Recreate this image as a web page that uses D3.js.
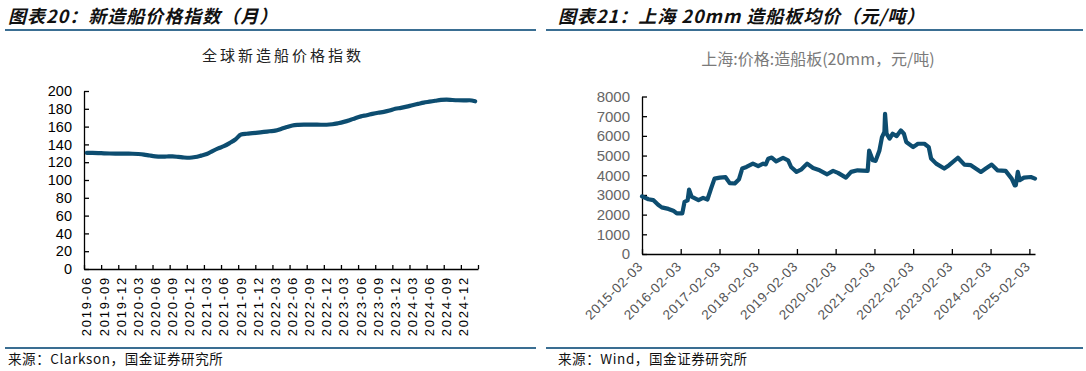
<!DOCTYPE html>
<meta charset="utf-8">
<script src="https://d3js.org/d3.v7.min.js"></script>
<style>
  body { margin: 0; background: #fff; }
  svg { display: block; }
  .title { font-family: "Noto Sans CJK SC", sans-serif; font-size: 18px; font-weight: bold; font-style: italic; fill: #111; letter-spacing: 1px; }
  .sub { font-family: "Noto Sans CJK SC", sans-serif; }
  .src { font-family: "Noto Sans CJK SC", sans-serif; font-size: 13.5px; fill: #111; letter-spacing: 0.6px; }
  .axis text { font-family: "Liberation Sans", Arial, sans-serif; }
</style>
<div id="chart"></div>
<script>

// ---- data: left chart, Clarkson newbuilding price index, monthly 2019-06 .. 2025-02
var months = []
for (var yy = 2019, mm = 6; yy * 100 + mm <= 202502; mm++) {
  if (mm > 12) { mm = 1; yy++ }
  months.push(yy + "-" + (mm < 10 ? "0" + mm : mm))
}
var indexValues = [
  130.5, 130.4, 130.2, 130.0, 129.8, 129.7, 129.7,
  129.6, 129.5, 129.2, 128.6, 127.5, 126.6, 126.3, 126.4, 126.5, 126.0, 125.3, 125.0,
  125.8, 127.4, 129.2, 132.5, 135.5, 138.0, 141.5, 145.5, 151.0, 152.0, 152.6, 153.3,
  154.0, 154.8, 155.5, 157.4, 159.5, 161.3, 162.0, 162.3, 162.3, 162.2, 162.1, 162.1,
  162.6, 163.8, 165.3, 167.2, 169.5, 171.5, 172.8, 174.3, 175.6, 176.6, 178.0, 180.0,
  181.0, 182.4, 184.0, 185.5, 187.0, 188.0, 189.0, 190.0, 190.3, 189.9, 189.6, 189.5,
  189.6, 188.5
]
var leftTicks = [0, 20, 40, 60, 80, 100, 120, 140, 160, 180, 200]

// ---- data: right chart, Shanghai 20mm ship plate price (yuan/ton)
var plateDates = [
  "2015-02-03", "2015-04-05", "2015-05-20", "2015-07-05", "2015-08-08", "2015-10-10",
  "2015-11-25", "2015-12-28", "2016-02-18", "2016-03-10", "2016-04-08", "2016-04-22",
  "2016-05-15", "2016-07-20", "2016-09-01", "2016-10-12", "2016-11-15", "2016-12-18",
  "2017-02-06", "2017-04-01", "2017-05-10", "2017-06-27", "2017-08-06", "2017-09-05",
  "2017-10-15", "2017-12-15", "2018-02-03", "2018-03-22", "2018-04-15", "2018-05-08",
  "2018-06-10", "2018-07-22", "2018-09-25", "2018-11-12", "2018-12-10", "2019-01-30",
  "2019-03-18", "2019-05-10", "2019-07-05", "2019-09-05", "2019-11-15", "2020-01-10",
  "2020-02-25", "2020-05-10", "2020-06-28", "2020-08-28", "2020-12-01", "2020-12-15",
  "2021-01-18", "2021-02-14", "2021-03-22", "2021-04-15", "2021-05-08", "2021-05-14",
  "2021-05-28", "2021-06-26", "2021-07-25", "2021-09-01", "2021-10-10", "2021-11-08",
  "2021-11-30", "2022-02-03", "2022-03-20", "2022-05-20", "2022-06-30", "2022-07-22",
  "2022-09-08", "2022-11-23", "2023-01-08", "2023-04-01", "2023-06-01", "2023-08-01",
  "2023-11-04", "2023-12-20", "2024-02-14", "2024-04-08", "2024-06-24", "2024-08-20",
  "2024-09-18", "2024-09-28", "2024-10-17", "2024-11-04", "2024-12-14", "2025-02-17",
  "2025-03-28"
]
var plateValues = [
  2930, 2780, 2740, 2500, 2370, 2290,
  2200, 2060, 2060, 2650, 2720, 3270,
  2920, 2740, 2850, 2770, 3320, 3830,
  3880, 3900, 3600, 3580, 3800, 4340,
  4420, 4590, 4460, 4590, 4550, 4840,
  4900, 4710, 4880, 4760, 4420, 4170,
  4300, 4590, 4370, 4250, 4050, 4220,
  4120, 3880, 4170, 4250, 4220, 5250,
  4760, 4730, 5260, 5940, 6200, 7120,
  6110, 5860, 6110, 5990, 6280, 6110,
  5690, 5430, 5600, 5600, 5430, 4850,
  4590, 4340, 4510, 4890, 4540, 4510,
  4170, 4340, 4540, 4250, 4220, 3830,
  3490, 3490, 4170, 3750, 3880, 3910,
  3830
]
var plateTickDates = ["2015-02-03", "2016-02-03", "2017-02-03", "2018-02-03", "2019-02-03",
  "2020-02-03", "2021-02-03", "2022-02-03", "2023-02-03", "2024-02-03", "2025-02-03"]
var rightTicks = [0, 1000, 2000, 3000, 4000, 5000, 6000, 7000, 8000]

var lineColor = "#0d4d70", ruleColor = "#3a6e92"

var svg = d3.select("#chart").append("svg")
  .attr("width", 1086).attr("height", 371)

// headers and footers
svg.append("text").attr("class", "title").attr("x", 8).attr("y", 23).text("图表20：新造船价格指数（月）")
svg.append("text").attr("class", "title").attr("x", 558).attr("y", 23).text("图表21：上海 20mm 造船板均价（元/吨）")
svg.append("rect").attr("x", 5).attr("y", 29).attr("width", 531).attr("height", 2).attr("fill", ruleColor)
svg.append("rect").attr("x", 546).attr("y", 29).attr("width", 537).attr("height", 2).attr("fill", ruleColor)
svg.append("rect").attr("x", 5).attr("y", 347).attr("width", 531).attr("height", 2).attr("fill", ruleColor)
svg.append("rect").attr("x", 546).attr("y", 347).attr("width", 537).attr("height", 2).attr("fill", ruleColor)
svg.append("text").attr("class", "src").attr("x", 8).attr("y", 364).text("来源：Clarkson，国金证券研究所")
svg.append("text").attr("class", "src").attr("x", 558).attr("y", 364).text("来源：Wind，国金证券研究所")

// ---------- left chart
var x1 = d3.scaleBand().domain(months).range([84, 478])
var x1lin = d3.scaleLinear().domain([0, months.length]).range([84, 478])
var y1 = d3.scaleLinear().domain([0, 200]).range([269, 91])

svg.append("text").attr("class", "sub")
  .attr("x", 283).attr("y", 61)
  .attr("text-anchor", "middle")
  .style("font-size", "15px").style("letter-spacing", "3px").style("fill", "#222")
  .text("全球新造船价格指数")

svg.append("g").attr("class", "axis")
  .attr("transform", "translate(84,0)")
  .call(d3.axisLeft(y1).tickValues(leftTicks).tickSizeInner(-5).tickSizeOuter(0).tickPadding(12))
  .call(g => g.selectAll("text").style("font-size", "14.5px").style("fill", "#000"))
  .call(g => g.selectAll("line,path").attr("stroke", "#000").attr("stroke-width", 1.3))

// tick marks at category boundaries every 3 months
svg.append("g").attr("class", "axis")
  .attr("transform", "translate(0,269)")
  .call(d3.axisBottom(x1lin).tickValues(d3.range(0, months.length + 1, 3)).tickFormat("").tickSizeInner(-4).tickSizeOuter(0))
  .call(g => g.selectAll("line,path").attr("stroke", "#000").attr("stroke-width", 1.3))

// category labels
svg.append("g").attr("class", "axis")
  .attr("transform", "translate(0,269)")
  .call(d3.axisBottom(x1).tickValues(months.filter((d, i) => i % 3 == 0)).tickSize(0).tickPadding(0))
  .call(g => g.select(".domain").remove())
  .call(g => g.selectAll("text")
    .attr("transform", "rotate(-90)")
    .attr("x", -7).attr("y", 0).attr("dy", "0.35em")
    .style("text-anchor", "end").style("font-size", "13px").style("letter-spacing", "1.8px").style("fill", "#000"))

var line1 = d3.line()
  .x((d, i) => x1(months[i]) + x1.bandwidth() / 2)
  .y(d => y1(d))
  .curve(d3.curveMonotoneX)

svg.append("path").datum(indexValues)
  .attr("d", line1)
  .attr("fill", "none").attr("stroke", lineColor).attr("stroke-width", 4.2)
  .attr("stroke-linecap", "round").attr("stroke-linejoin", "round")

// ---------- right chart
var parse = d3.timeParse("%Y-%m-%d")
var x2 = d3.scaleTime().domain([parse("2015-02-03"), parse("2025-03-28")]).range([642, 1035])
var y2 = d3.scaleLinear().domain([0, 8000]).range([254, 96.5])

svg.append("text").attr("class", "sub")
  .attr("x", 818).attr("y", 65)
  .attr("text-anchor", "middle")
  .style("font-size", "16px").style("fill", "#7a7a7a")
  .text("上海:价格:造船板(20mm，元/吨)")

svg.append("g").attr("class", "axis")
  .attr("transform", "translate(642,0)")
  .call(d3.axisLeft(y2).tickValues(rightTicks).tickSizeInner(-5).tickSizeOuter(0).tickPadding(12).tickFormat(d3.format("d")))
  .call(g => g.selectAll("text").style("font-size", "15px").style("fill", "#666"))
  .call(g => g.selectAll("line,path").attr("stroke", "#000").attr("stroke-width", 1.3))

svg.append("g").attr("class", "axis")
  .attr("transform", "translate(0,254)")
  .call(d3.axisBottom(x2).tickValues(plateTickDates.map(parse)).tickFormat(d3.timeFormat("%Y-%m-%d"))
    .tickSizeInner(-5).tickSizeOuter(0).tickPadding(0))
  .call(g => g.selectAll("line,path").attr("stroke", "#000").attr("stroke-width", 1.3))
  .call(g => g.selectAll("text")
    .attr("transform", "translate(-2,10) rotate(-45)")
    .attr("x", 0).attr("y", 0).attr("dy", "0.35em")
    .style("text-anchor", "end").style("font-size", "13.5px").style("letter-spacing", "0.6px").style("fill", "#555"))

var line2 = d3.line()
  .x((d, i) => x2(parse(plateDates[i])))
  .y(d => y2(d))

svg.append("path").datum(plateValues)
  .attr("d", line2)
  .attr("fill", "none").attr("stroke", lineColor).attr("stroke-width", 4.2)
  .attr("stroke-linecap", "round").attr("stroke-linejoin", "round")

</script>
